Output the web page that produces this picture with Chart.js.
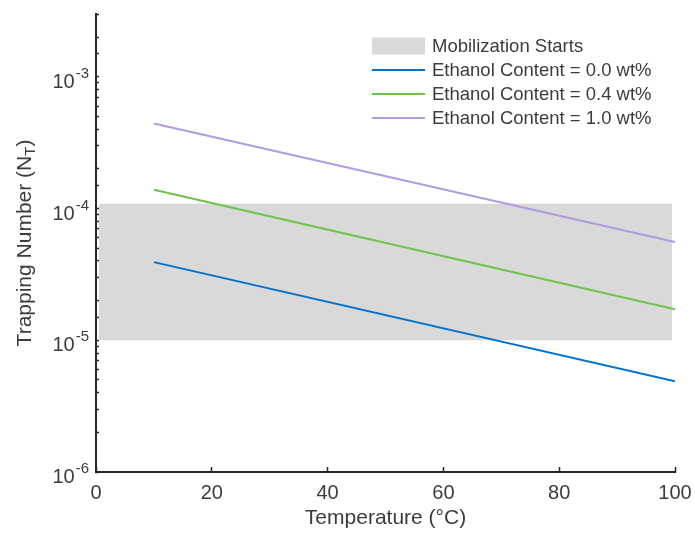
<!DOCTYPE html>
<html>
<head>
<meta charset="utf-8">
<script src="https://cdn.jsdelivr.net/npm/chart.js@4.4.1/dist/chart.umd.min.js"></script>
<style>
	html, body { margin: 0; padding: 0; background: #fff; }
</style>
</head>
<body>
<canvas id="myChart" width="695" height="533"></canvas>
<script>
	// 데이터
	var temps = [ 10, 100 ];
	var nt00 = [ 3.92e-5, 4.89e-6 ];
	var nt04 = [ 1.39e-4, 1.72e-5 ];
	var nt10 = [ 4.43e-4, 5.56e-5 ];
	var bandX = [ 0.5, 99.5 ];
	var bandTop = [ 1.09e-4, 1.09e-4 ];
	var bandBottom = 1e-5;
	var yMajor = [ 1e-6, 1e-5, 1e-4, 1e-3 ];
	var xTickStep = 20;
	var labels = [ 'Mobilization Starts', 'Ethanol Content = 0.0 wt%',
			'Ethanol Content = 0.4 wt%', 'Ethanol Content = 1.0 wt%' ];

	var family = "'Liberation Sans', Arial, Helvetica, sans-serif";
	var textColor = '#3c3c3c';
	var axisColor = '#262626';
	var colors = [ '#d9d9d9', '#0072d0', '#6cc448', '#b09ae0' ];

	Chart.defaults.font.family = family;
	Chart.defaults.color = textColor;

	function pts(xs, ys) {
		return xs.map(function(x, i) {
			return { x : x, y : ys[i] };
		});
	}

	// y축 눈금 라벨 (10^n)
	var yLabelPlugin = {
		id : 'yLabels',
		afterDraw : function(chart) {
			var ctx = chart.ctx;
			var scale = chart.scales.y;
			var right = chart.chartArea.left - 7;
			ctx.save();
			ctx.fillStyle = textColor;
			ctx.textAlign = 'right';
			ctx.textBaseline = 'alphabetic';
			yMajor.forEach(function(v) {
				var py = scale.getPixelForValue(v);
				var exp = String(Math.round(Math.log10(v)));
				ctx.font = '15px ' + family;
				var ew = ctx.measureText(exp).width;
				ctx.fillText(exp, right, py + 1);
				ctx.font = '20px ' + family;
				ctx.fillText('10', right - ew - 1, py + 11);
			});
			ctx.restore();
		}
	};

	// y축 제목 (아래첨자 T)
	var yTitlePlugin = {
		id : 'yTitle',
		afterDraw : function(chart) {
			var ctx = chart.ctx;
			var area = chart.chartArea;
			var cy = (area.top + area.bottom) / 2;
			var main = 'Trapping Number (N';
			var sub = 'T';
			var close = ')';
			ctx.save();
			ctx.fillStyle = textColor;
			ctx.font = '21px ' + family;
			var w1 = ctx.measureText(main).width;
			var w3 = ctx.measureText(close).width;
			ctx.font = '15px ' + family;
			var w2 = ctx.measureText(sub).width;
			var total = w1 + w2 + w3;
			ctx.translate(31, cy);
			ctx.rotate(-Math.PI / 2);
			ctx.textAlign = 'left';
			ctx.textBaseline = 'alphabetic';
			ctx.font = '21px ' + family;
			ctx.fillText(main, -total / 2, 0);
			ctx.font = '15px ' + family;
			ctx.fillText(sub, -total / 2 + w1, 4);
			ctx.font = '21px ' + family;
			ctx.fillText(close, -total / 2 + w1 + w2, 0);
			ctx.restore();
		}
	};

	// 범례
	var legendPlugin = {
		id : 'customLegend',
		afterDraw : function(chart) {
			var ctx = chart.ctx;
			var x0 = 372, x1 = 425, tx = 432, y0 = 46, dy = 24;
			ctx.save();
			ctx.font = '18.5px ' + family;
			ctx.textAlign = 'left';
			ctx.textBaseline = 'middle';
			labels.forEach(function(lab, i) {
				var y = y0 + i * dy;
				if (i === 0) {
					ctx.fillStyle = colors[0];
					ctx.fillRect(x0, y - 8.5, x1 - x0, 17);
				} else {
					ctx.strokeStyle = colors[i];
					ctx.lineWidth = 2;
					ctx.beginPath();
					ctx.moveTo(x0, y);
					ctx.lineTo(x1, y);
					ctx.stroke();
				}
				ctx.fillStyle = textColor;
				ctx.fillText(lab, tx, y + 1);
			});
			ctx.restore();
		}
	};

	var ctx = document.getElementById('myChart');
	var myChart = new Chart(ctx, {
		type : 'line',
		data : {
			datasets : [ {
				label : labels[0],
				data : pts(bandX, bandTop),
				borderWidth : 0,
				borderColor : 'rgba(0,0,0,0)',
				backgroundColor : colors[0],
				pointRadius : 0,
				fill : { value : bandBottom },
				order : 1
			}, {
				label : labels[1],
				data : pts(temps, nt00),
				borderColor : colors[1],
				borderWidth : 2,
				pointRadius : 0,
				fill : false,
				order : 0
			}, {
				label : labels[2],
				data : pts(temps, nt04),
				borderColor : colors[2],
				borderWidth : 2,
				pointRadius : 0,
				fill : false,
				order : 0
			}, {
				label : labels[3],
				data : pts(temps, nt10),
				borderColor : colors[3],
				borderWidth : 2,
				pointRadius : 0,
				fill : false,
				order : 0
			} ]
		},
		options : {
			responsive : false,
			animation : false,
			layout : {
				padding : { top : 14, right : 20, left : 0, bottom : 0 }
			},
			plugins : {
				legend : { display : false },
				tooltip : { enabled : false }
			},
			scales : {
				x : {
					type : 'linear',
					min : 0,
					max : 100,
					ticks : {
						stepSize : xTickStep,
						font : { size : 20 },
						color : textColor,
						padding : 14,
						maxRotation : 0
					},
					grid : {
						drawOnChartArea : false,
						drawTicks : true,
						tickLength : -5,
						tickColor : axisColor,
						tickWidth : 1.5
					},
					border : { display : true, color : axisColor, width : 2 },
					title : {
						display : true,
						text : 'Temperature (°C)',
						font : { size : 21 },
						color : textColor,
						padding : { top : 0, bottom : 2 }
					},
					afterFit : function(scale) {
						scale.height = 61;
						scale.paddingLeft = 0;
						scale.paddingRight = 0;
					}
				},
				y : {
					type : 'logarithmic',
					min : 1e-6,
					max : 3e-3,
					ticks : {
						display : false,
						autoSkip : false
					},
					grid : {
						drawOnChartArea : false,
						drawTicks : true,
						tickLength : -3,
						tickColor : axisColor,
						tickWidth : 1.5
					},
					border : { display : true, color : axisColor, width : 2 },
					afterFit : function(scale) {
						scale.width = 96;
						scale.paddingTop = 0;
						scale.paddingBottom = 0;
					}
				}
			}
		},
		plugins : [ yLabelPlugin, yTitlePlugin, legendPlugin ]
	});
</script>
</body>
</html>
